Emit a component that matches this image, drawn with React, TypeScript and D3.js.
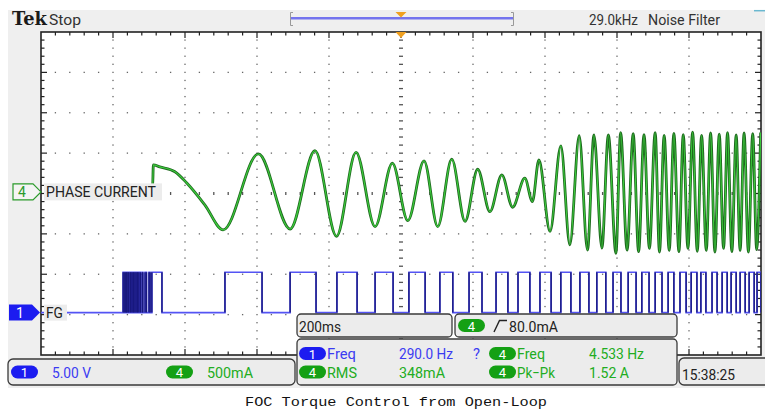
import React from 'react';
import * as d3 from 'd3';

// Screen geometry of the scope display
const W = 765;
const H = 411;
const GRID = { left: 41, right: 761, top: 32, bottom: 355 };
const H_DIVS = 10;
const V_DIVS = 8;
const MINOR = 5;

// Acquisition settings
const TIME_SPAN_MS = 2000; // 200 ms/div x 10 div
const CH1_VOLTS_PER_DIV = 5;
const CH4_MA_PER_DIV = 500;
const CH1_POSITION_DIV = -2.95;
const CH4_POSITION_DIV = 0.04;

// Channel 4: phase current, turning points of the waveform (ms from record start, mA)
const phaseTimeMs = [
  247, 310, 312, 330, 372, 405, 455, 506, 604, 692, 761, 821, 875, 928, 976, 1019,
  1064, 1102, 1141, 1178, 1213, 1247, 1280, 1310, 1344, 1365, 1383, 1414, 1444, 1469,
  1495, 1518, 1536, 1558, 1576, 1597, 1610, 1628, 1645, 1660, 1675, 1690, 1706, 1718,
  1731, 1745, 1758, 1772, 1784, 1797, 1810, 1823, 1835, 1848, 1860, 1872, 1884, 1896,
  1907, 1919, 1931, 1942, 1953, 1965, 1977, 1988, 1999,
];
const phaseCurrentMa = [
  40, 50, 334, 310, 250, 110, -160, -470, 470, -460, 510, -550, 490, -430, 355, -355,
  385, -430, 405, -365, 280, -245, 210, -190, 170, -120, 395, -490, 570, -655,
  695, -720, 705, -695, 705, -760, 735, -720, 720, -740, 710, -700, 735, -745,
  700, -725, 725, -740, 710, -700, 740, -735, 700, -725, 730, -745, 715, -700,
  735, -740, 705, -725, 730, -745, 720, -715, 735,
];

// Channel 1: FG hall output, rising and falling edges (ms from record start)
const fgRiseMs = [
  228, 234, 239, 244, 250, 256, 261, 267, 272, 281, 289, 300, 308, 511, 692, 822, 928,
  1022, 1108, 1189, 1264, 1325, 1386, 1444, 1497, 1544, 1589, 1631, 1669, 1706, 1742,
  1775, 1806, 1833, 1864, 1892, 1917, 1942, 1967, 1989,
];
const fgFallMs = [
  231, 237, 242, 248, 253, 258, 264, 269, 276, 283, 293, 303, 336, 614, 764, 878, 978,
  1067, 1144, 1225, 1297, 1358, 1417, 1472, 1522, 1569, 1611, 1653, 1689, 1725, 1758,
  1792, 1822, 1847, 1878, 1906, 1931, 1956, 1981, 2000,
];
const fgHighVolts = 5;

// Readouts
const ch1Scale = '5.00 V';
const ch4Scale = '500mA';
const timebase = '200ms';
const triggerLevel = '80.0mA';
const measChannels = ['1', '4', '4', '4'];
const measNames = ['Freq', 'Freq', 'RMS', 'Pk\u2212Pk'];
const measValues = ['290.0 Hz', '4.533 Hz', '348mA', '1.52 A'];

const BLUE = '#1c1cf0';
const BLUE_TEXT = '#3b3bf2';
const GREEN = '#14a014';
const GREEN_TEXT = '#22ad22';
const PANEL = '#ececec';
const PANEL_EDGE = '#3a3a3a';
const TEXT = '#222';

// rendered widths of the measurement strings
const measNameW = [29, 28, 30, 38];
const measValueW = [54, 55, 46, 40];

const x = d3.scaleLinear().domain([0, TIME_SPAN_MS]).range([GRID.left, GRID.right]);
const yDiv = d3.scaleLinear().domain([-V_DIVS / 2, V_DIVS / 2]).range([GRID.bottom, GRID.top]);
const yCh1 = (v: number) => yDiv(CH1_POSITION_DIV + v / CH1_VOLTS_PER_DIV);
const yCh4 = (ma: number) => yDiv(CH4_POSITION_DIV + ma / CH4_MA_PER_DIV);

const divW = (GRID.right - GRID.left) / H_DIVS;
const divH = (GRID.bottom - GRID.top) / V_DIVS;

function Txt(props: {
  x: number; y: number; w?: number; size?: number; fill?: string; family?: string;
  weight?: string | number; children: React.ReactNode;
}) {
  const { x: tx, y: ty, w, size = 15, fill = TEXT, family = 'Roboto', weight = 400, children } = props;
  return (
    <text
      x={tx}
      y={ty}
      fontSize={size}
      fill={fill}
      fontFamily={family}
      fontWeight={weight}
      textLength={w}
      lengthAdjust={w ? 'spacingAndGlyphs' : undefined}
    >
      {children}
    </text>
  );
}

function Pill(props: { x: number; cy: number; label: string; color: string; w?: number }) {
  const { x: px, cy, label, color, w = 27 } = props;
  const h = 13;
  return (
    <g>
      <rect x={px} y={cy - h / 2} width={w} height={h} rx={h / 2} fill={color} />
      <text x={px + w / 2} y={cy + 5} fontSize={13} fill="#fff" fontFamily="Roboto" textAnchor="middle">
        {label}
      </text>
    </g>
  );
}

export default function App() {
  // grid dots
  const dots: React.ReactNode[] = [];
  for (let i = 1; i < H_DIVS; i++) {
    const gx = GRID.left + i * divW;
    for (let k = 1; k < V_DIVS * MINOR; k++) {
      const gy = GRID.top + (k * divH) / MINOR;
      if (i === H_DIVS / 2) {
        dots.push(<rect key={`cv${k}`} x={gx - 2} y={gy - 0.6} width={4} height={1.3} fill="#555" />);
      } else {
        dots.push(<rect key={`v${i}-${k}`} x={gx - 0.65} y={gy - 0.65} width={1.3} height={1.3} fill="#666" />);
      }
    }
  }
  for (let j = 1; j < V_DIVS; j++) {
    const gy = GRID.top + j * divH;
    for (let m = 1; m < H_DIVS * MINOR; m++) {
      if (m % MINOR === 0) continue;
      const gx = GRID.left + (m * divW) / MINOR;
      if (j === V_DIVS / 2) {
        dots.push(<rect key={`ch${m}`} x={gx - 0.65} y={gy - 1.5} width={1.3} height={3} fill="#555" />);
      } else {
        dots.push(<rect key={`h${j}-${m}`} x={gx - 0.65} y={gy - 0.65} width={1.3} height={1.3} fill="#666" />);
      }
    }
  }

  // border ticks
  const ticks: React.ReactNode[] = [];
  for (let m = 1; m < H_DIVS * MINOR; m++) {
    const gx = GRID.left + (m * divW) / MINOR;
    const len = m % MINOR === 0 ? 6 : 3.5;
    ticks.push(<line key={`tt${m}`} x1={gx} x2={gx} y1={GRID.top} y2={GRID.top + len} stroke="#222" strokeWidth={1.2} />);
    ticks.push(<line key={`tb${m}`} x1={gx} x2={gx} y1={GRID.bottom} y2={GRID.bottom - len} stroke="#222" strokeWidth={1.2} />);
  }
  for (let k = 1; k < V_DIVS * MINOR; k++) {
    const gy = GRID.top + (k * divH) / MINOR;
    const len = k % MINOR === 0 ? 6 : 3.5;
    ticks.push(<line key={`tl${k}`} x1={GRID.left} x2={GRID.left + len} y1={gy} y2={gy} stroke="#222" strokeWidth={1.2} />);
    ticks.push(<line key={`tr${k}`} x1={GRID.right} x2={GRID.right - len} y1={gy} y2={gy} stroke="#222" strokeWidth={1.2} />);
  }

  // phase current trace
  const phasePath =
    d3
      .line<number>()
      .x((_, i) => x(phaseTimeMs[i]))
      .y((d) => yCh4(d))
      .curve(d3.curveMonotoneX)(phaseCurrentMa) || '';

  // FG trace as a square wave
  const fgPts: [number, number][] = [[0, 0]];
  fgRiseMs.forEach((r, i) => {
    const f = fgFallMs[i];
    fgPts.push([r, 0], [r, fgHighVolts], [f, fgHighVolts], [f, 0]);
  });
  fgPts.push([TIME_SPAN_MS, 0]);
  const fgPath =
    d3
      .line<[number, number]>()
      .x((d) => x(d[0]))
      .y((d) => yCh1(d[1]))(fgPts) || '';
  const fgEdges = [...fgRiseMs, ...fgFallMs];

  const c4 = yCh4(0);
  const c1 = yCh1(0);
  const trigX = x(TIME_SPAN_MS / 2);

  return (
    <svg
      width={W}
      height={H}
      viewBox={`0 0 ${W} ${H}`}
      style={{ position: 'absolute', left: 0, top: 0, background: '#fff' }}
      fontFamily="Roboto"
    >
      <defs>
        <clipPath id="gridClip">
          <rect x={GRID.left} y={GRID.top} width={GRID.right - GRID.left} height={GRID.bottom - GRID.top} />
        </clipPath>
      </defs>

      {/* instrument bezel */}
      <rect x={8} y={10} width={W - 8} height={378} fill="#efefef" />
      <line x1={754} x2={765} y1={10.7} y2={10.7} stroke="#6ab8d0" strokeWidth={1.5} />

      {/* top status bar */}
      <Txt x={12} y={25} w={35} size={18} family="DejaVu Serif" weight="bold" fill="#1a1a1a">Tek</Txt>
      <Txt x={49} y={25} w={32} size={15} fill="#333">Stop</Txt>
      <Txt x={589} y={25} w={49} size={15} fill="#333">29.0kHz</Txt>
      <Txt x={648} y={25} w={72} size={15} fill="#333">Noise Filter</Txt>

      {/* record position bar */}
      <path d="M293,12.5 H290.5 V25.5 H293" fill="none" stroke="#999" strokeWidth={1} />
      <path d="M511,12.5 H513.5 V25.5 H511" fill="none" stroke="#999" strokeWidth={1} />
      <line x1={291} x2={513} y1={18.3} y2={18.3} stroke="#7474ee" strokeWidth={2.4} />
      <path d={`M${trigX - 5.5},12 L${trigX + 5.5},12 L${trigX},17.5 Z`} fill="#f0a020" />

      {/* graticule */}
      <rect x={GRID.left} y={GRID.top} width={GRID.right - GRID.left} height={GRID.bottom - GRID.top} fill="#fff" />
      {dots}
      {ticks}
      <rect
        x={GRID.left}
        y={GRID.top}
        width={GRID.right - GRID.left}
        height={GRID.bottom - GRID.top}
        fill="none"
        stroke="#222"
        strokeWidth={1.6}
      />
      <path d={`M${trigX - 5.5},${GRID.top} L${trigX + 5.5},${GRID.top} L${trigX},${GRID.top + 6} Z`} fill="#f0a020" />

      {/* traces */}
      <g clipPath="url(#gridClip)">
        <path d={phasePath} fill="none" stroke="#1f6a1f" strokeWidth={2.8} strokeLinejoin="round" />
        <path d={phasePath} fill="none" stroke="#3ccc3c" strokeWidth={1.1} strokeLinejoin="round" />
        <path d={fgPath} fill="none" stroke="#5454f4" strokeWidth={1.6} />
        {fgEdges.map((t, i) => (
          <line key={i} x1={x(t)} x2={x(t)} y1={yCh1(0)} y2={yCh1(fgHighVolts)} stroke="#17177c" strokeWidth={1.4} />
        ))}
      </g>

      {/* channel reference markers and labels */}
      <path d={`M13,${c4 - 8} H33 L41,${c4} L33,${c4 + 8} H13 Z`} fill="#f4f4f4" stroke="#2a9a2a" strokeWidth={1.2} />
      <Txt x={18} y={c4 + 5.5} size={14} fill="#2a9a2a">4</Txt>
      <rect x={44} y={c4 - 8.5} width={118} height={17} fill="#ececec" />
      <Txt x={46} y={c4 + 5.5} w={110} size={15}>PHASE CURRENT</Txt>

      <path d={`M9,${c1 - 8} H32 L40,${c1} L32,${c1 + 8} H9 Z`} fill={BLUE} />
      <Txt x={16} y={c1 + 5.5} size={14} fill="#fff">1</Txt>
      <rect x={44} y={c1 - 8} width={23} height={16} fill="#ececec" />
      <Txt x={46} y={c1 + 5.5} w={17} size={15}>FG</Txt>

      {/* timebase and trigger readouts */}
      <rect x={297} y={314} width={155} height={23} rx={4} fill={PANEL} stroke={PANEL_EDGE} strokeWidth={1.3} />
      <Txt x={299} y={332} w={42} size={15}>{timebase}</Txt>
      <rect x={455} y={314} width={222} height={23} rx={4} fill={PANEL} stroke={PANEL_EDGE} strokeWidth={1.3} />
      <Pill x={458} cy={325.5} label="4" color={GREEN} />
      <path d="M494,332 L499.5,320.5 H507" fill="none" stroke="#222" strokeWidth={1.4} />
      <Txt x={509} y={332} w={49} size={15}>{triggerLevel}</Txt>

      {/* measurements */}
      <rect x={297} y={339} width={380} height={46} rx={4} fill={PANEL} stroke={PANEL_EDGE} strokeWidth={1.3} />
      {measNames.map((name, i) => {
        const col = i % 2;
        const row = Math.floor(i / 2);
        const bx = col === 0 ? 299 : 489;
        const vx = col === 0 ? 399 : 589;
        const cy = row === 0 ? 353.5 : 372;
        const isBlue = measChannels[i] === '1';
        const fill = isBlue ? BLUE_TEXT : GREEN_TEXT;
        return (
          <g key={i}>
            <Pill x={bx} cy={cy} label={measChannels[i]} color={isBlue ? BLUE : GREEN} />
            <Txt x={bx + 28} y={cy + 5.5} w={measNameW[i]} size={15} fill={fill}>{name}</Txt>
            <Txt x={vx} y={cy + 5.5} w={measValueW[i]} size={15} fill={fill}>{measValues[i]}</Txt>
          </g>
        );
      })}
      <Txt x={473} y={359} w={7} size={15} fill={BLUE_TEXT}>?</Txt>

      {/* vertical scale readout */}
      <rect x={8} y={359} width={287} height={26} rx={5} fill={PANEL} stroke={PANEL_EDGE} strokeWidth={1.3} />
      <Pill x={11} cy={372} label="1" color={BLUE} />
      <Txt x={52} y={377.5} w={39} size={15} fill={BLUE_TEXT}>{ch1Scale}</Txt>
      <Pill x={166} cy={372} label="4" color={GREEN} />
      <Txt x={207} y={377.5} w={46} size={15} fill={GREEN_TEXT}>{ch4Scale}</Txt>

      {/* clock */}
      <rect x={679} y={358} width={95} height={27} rx={5} fill={PANEL} stroke={PANEL_EDGE} strokeWidth={1.3} />
      <Txt x={682} y={379.5} w={53} size={15}>15:38:25</Txt>

      {/* caption */}
      <rect x={0} y={388} width={W} height={H - 388} fill="#fff" />
      <Txt x={245} y={406} w={302} size={13} family="Liberation Mono" fill="#111">
        FOC Torque Control from Open-Loop
      </Txt>
    </svg>
  );
}
